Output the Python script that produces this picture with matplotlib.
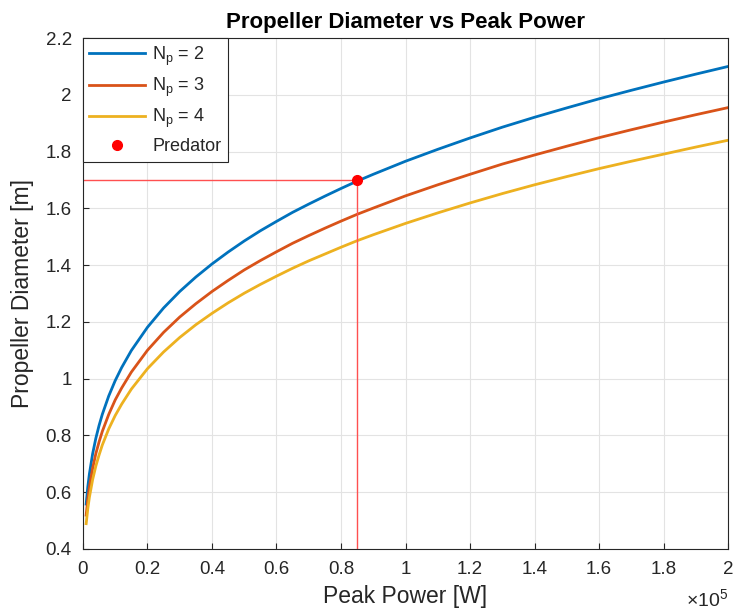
import matplotlib.pyplot as plt
import numpy as np

plt.rcParams['font.family'] = ['Liberation Sans', 'DejaVu Sans']
plt.rcParams['mathtext.fontset'] = 'custom'
plt.rcParams['mathtext.rm'] = 'Liberation Sans'

# peak power in units of 1e5 W
power = np.array([0.01, 0.015, 0.02, 0.03, 0.04, 0.05, 0.06, 0.08, 0.1, 0.12, 0.15, 0.2,
                  0.25, 0.3, 0.35, 0.4, 0.45, 0.5, 0.55, 0.6, 0.65, 0.7, 0.75, 0.8, 0.85,
                  0.9, 1.0, 1.1, 1.2, 1.3, 1.4, 1.5, 1.6, 1.7, 1.8, 1.9, 2.0])
d_np2 = np.array([0.558, 0.618, 0.664, 0.735, 0.790, 0.835, 0.874, 0.939, 0.993, 1.039,
                  1.099, 1.181, 1.249, 1.307, 1.358, 1.404, 1.446, 1.485, 1.521, 1.554,
                  1.586, 1.615, 1.643, 1.670, 1.696, 1.720, 1.766, 1.808, 1.848, 1.886,
                  1.921, 1.954, 1.986, 2.016, 2.045, 2.073, 2.100])
d_np3 = np.array([0.519, 0.575, 0.618, 0.684, 0.736, 0.777, 0.814, 0.874, 0.925, 0.967,
                  1.023, 1.100, 1.163, 1.217, 1.264, 1.307, 1.346, 1.383, 1.416, 1.447,
                  1.477, 1.504, 1.530, 1.555, 1.579, 1.601, 1.644, 1.683, 1.720, 1.756,
                  1.788, 1.819, 1.849, 1.877, 1.904, 1.930, 1.955])
d_np4 = np.array([0.489, 0.541, 0.582, 0.644, 0.692, 0.731, 0.766, 0.823, 0.870, 0.910,
                  0.963, 1.035, 1.094, 1.145, 1.190, 1.230, 1.267, 1.301, 1.332, 1.361,
                  1.389, 1.415, 1.439, 1.463, 1.486, 1.507, 1.547, 1.584, 1.619, 1.652,
                  1.683, 1.712, 1.740, 1.766, 1.791, 1.816, 1.840])
pred_power = 0.85
pred_diam = 1.70

txt = '#262626'
fig = plt.figure(figsize=(7.34, 6.14), dpi=100)
ax = fig.add_axes([0.113, 0.106, 0.879, 0.832])

ax.plot(power, d_np2, color='#0072BD', lw=2, label=r'N$_\mathregular{p}$ = 2')
ax.plot(power, d_np3, color='#D95319', lw=2, label=r'N$_\mathregular{p}$ = 3')
ax.plot(power, d_np4, color='#EDB120', lw=2, label=r'N$_\mathregular{p}$ = 4')
ax.plot([0, pred_power], [pred_diam, pred_diam], color='#FF5050', lw=1)
ax.plot([pred_power, pred_power], [0.4, pred_diam], color='#FF5050', lw=1)
ax.plot(pred_power, pred_diam, 'o', color='red', ms=7, label='Predator')

ax.set_xlim(0, 2)
ax.set_ylim(0.4, 2.2)
ax.set_xticks(np.arange(0, 2.01, 0.2))
ax.set_xticklabels(['0', '0.2', '0.4', '0.6', '0.8', '1', '1.2', '1.4', '1.6', '1.8', '2'])
ax.set_yticks(np.arange(0.4, 2.21, 0.2))
ax.set_yticklabels(['0.4', '0.6', '0.8', '1', '1.2', '1.4', '1.6', '1.8', '2', '2.2'])
ax.tick_params(direction='in', labelsize=13.5, colors=txt, length=4)
ax.tick_params(axis='x', pad=9)
ax.tick_params(axis='y', pad=8)
ax.grid(True, color='#e3e3e3', lw=0.8)
ax.set_axisbelow(True)
for s in ax.spines.values():
    s.set_color(txt)
    s.set_linewidth(0.8)

ax.set_title('Propeller Diameter vs Peak Power', fontsize=16, fontweight='bold',
             color='black', pad=7)
ax.set_xlabel('Peak Power [W]', fontsize=16.5, color=txt, labelpad=5)
ax.set_ylabel('Propeller Diameter [m]', fontsize=16.5, color=txt, labelpad=8)
ax.text(1.0, -0.1, r'$\times$10$^\mathregular{5}$', transform=ax.transAxes,
        ha='right', va='center', fontsize=14, color=txt)

leg = ax.legend(loc='upper left', fontsize=13, fancybox=False, framealpha=1,
                edgecolor=txt, borderaxespad=0, handlelength=3.1, labelspacing=0.45,
                borderpad=0.35, handletextpad=0.4)
leg.get_frame().set_linewidth(0.8)
for t in leg.get_texts():
    t.set_color(txt)

plt.savefig('out.png')
